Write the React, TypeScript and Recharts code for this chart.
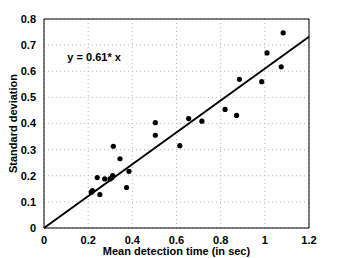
import { ScatterChart, Scatter, XAxis, YAxis, CartesianGrid, ReferenceLine, ReferenceDot, Label } from 'recharts';

// mean detection time (sec) vs standard deviation, one entry per subject
const meanTime = [0.214, 0.219, 0.241, 0.253, 0.275, 0.299, 0.307, 0.311, 0.314, 0.344, 0.374, 0.385,
    0.504, 0.504, 0.615, 0.655, 0.715, 0.82, 0.872, 0.885, 0.986, 1.01, 1.074, 1.083];
const stdDev = [0.137, 0.143, 0.193, 0.128, 0.188, 0.188, 0.192, 0.201, 0.313, 0.265, 0.155, 0.217,
    0.403, 0.355, 0.315, 0.419, 0.409, 0.454, 0.431, 0.569, 0.56, 0.67, 0.617, 0.747];

const fitSlope = 0.61;
const fitRange = [0, 1.2];
const xTicks = [0, 0.2, 0.4, 0.6, 0.8, 1, 1.2];
const yTicks = [0, 0.1, 0.2, 0.3, 0.4, 0.5, 0.6, 0.7, 0.8];

const font = '"Liberation Sans", Arial, sans-serif';
const tickStyle = { fontSize: 11, fontWeight: 700, fill: '#000', fontFamily: font };

const Dot = (props: any) => <circle cx={props.cx} cy={props.cy} r={2.6} fill="#000" />;

export default function App() {
    const points = meanTime.map((x, i) => ({ x, y: stdDev[i] }));
    const fitLine = fitRange.map(x => ({ x, y: fitSlope * x }));

    return (
        <div style={{ position: 'absolute', left: 0, top: 0, background: '#fff' }}>
            <ScatterChart width={342} height={258} margin={{ top: 19, right: 33, bottom: 0, left: 0 }}>
                <CartesianGrid stroke="#b5b5b5" strokeDasharray="1 3" />
                <XAxis
                    type="number"
                    dataKey="x"
                    domain={[0, 1.2]}
                    ticks={xTicks}
                    height={30}
                    axisLine={{ stroke: '#000' }}
                    tickLine={false}
                    tick={tickStyle}
                    tickMargin={2}
                    tickFormatter={(v: number) => String(v)}
                >
                    <Label value="Mean detection time (in sec)" position="insideBottom" offset={3}
                        style={{ fontSize: 11, fontWeight: 700, fill: '#000', fontFamily: font }} />
                </XAxis>
                <YAxis
                    type="number"
                    dataKey="y"
                    domain={[0, 0.8]}
                    ticks={yTicks}
                    width={44}
                    axisLine={{ stroke: '#000' }}
                    tickLine={false}
                    tick={tickStyle}
                    tickMargin={2}
                    tickFormatter={(v: number) => String(v)}
                >
                    <Label value="Standard deviation" angle={-90} position="insideLeft" offset={13}
                        style={{ fontSize: 11, fontWeight: 700, fill: '#000', fontFamily: font, textAnchor: 'middle' }} />
                </YAxis>
                <ReferenceLine y={0.8} stroke="#000" ifOverflow="extendDomain" />
                <ReferenceLine x={1.2} stroke="#000" ifOverflow="extendDomain" />
                <Scatter data={fitLine} line={{ stroke: '#000', strokeWidth: 2 }} shape={() => null} isAnimationActive={false} />
                <Scatter data={points} shape={Dot} isAnimationActive={false} />
                <ReferenceDot x={0.227} y={0.654} r={0} stroke="none" fill="none">
                    <Label value="y = 0.61* x" position="center"
                        style={{ fontSize: 11, fontWeight: 700, fill: '#000', fontFamily: font }} />
                </ReferenceDot>
            </ScatterChart>
        </div>
    );
}
